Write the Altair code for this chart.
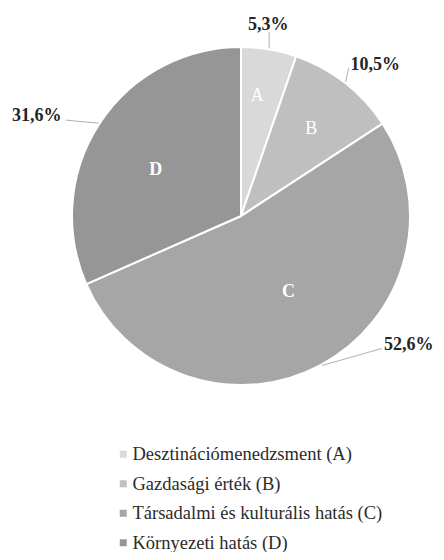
import altair as alt
import pandas as pd

# ---- data ----
categories = ["A", "B", "C", "D"]
legend_labels = [
    "Desztinációmenedzsment (A)",
    "Gazdasági érték (B)",
    "Társadalmi és kulturális hatás (C)",
    "Környezeti hatás (D)",
]
percent_values = [5.3, 10.5, 52.6, 31.6]
percent_text = ["5,3%", "10,5%", "52,6%", "31,6%"]

# ---- style / layout ----
colors = ["#d9d9d9", "#bfbfbf", "#a6a6a6", "#969696"]
FONT = "'Liberation Serif', 'Times New Roman', 'DejaVu Serif', serif"
CX, CY, R = 233, 208, 169
inner_r = {"A": 122, "B": 111, "C": 89, "D": 97}
inner_nudge = {"A": (-4, 0), "B": (2, 0), "C": (5, -2), "D": (-4, 7)}
inner_bold = {"A": "normal", "B": "normal", "C": "bold", "D": "bold"}
elbow = {"A": (0, -16), "B": (3, -14), "C": (60, -17), "D": (-33, -3)}
label_off = {"A": (-1, -7, "center"), "B": (2, -3, "left"),
             "C": (2, -3, "left"), "D": (-4, -4, "right")}

df = pd.DataFrame({
    "ord": list(range(len(categories))),
    "cat": categories,
    "label": legend_labels,
    "pct": percent_values,
    "ptxt": percent_text,
})
df["ir"] = df["cat"].map(inner_r)
df["idx"] = df["cat"].map(lambda c: inner_nudge[c][0])
df["idy"] = df["cat"].map(lambda c: inner_nudge[c][1])
df["bold"] = df["cat"].map(inner_bold)
df["edx"] = df["cat"].map(lambda c: elbow[c][0])
df["edy"] = df["cat"].map(lambda c: elbow[c][1])
df["tdx"] = df["cat"].map(lambda c: label_off[c][0])
df["tdy"] = df["cat"].map(lambda c: label_off[c][1])
df["align"] = df["cat"].map(lambda c: label_off[c][2])

base = alt.Chart(df)

pie = base.mark_arc(radius=R, stroke="white", strokeWidth=2).encode(
    theta=alt.Theta("pct:Q", stack=True),
    order=alt.Order("ord:Q"),
    color=alt.Color(
        "label:N",
        scale=alt.Scale(domain=legend_labels, range=colors),
        sort=legend_labels,
        legend=alt.Legend(
            title=None,
            orient="none",
            legendX=106,
            legendY=437,
            symbolType="square",
            symbolSize=49,
            symbolStrokeWidth=0,
            labelFont=FONT,
            labelFontSize=18.5,
            labelColor="#2b2b2b",
            labelLimit=0,
            rowPadding=10.5,
            labelOffset=0,
        ),
    ),
    x=alt.value(CX),
    y=alt.value(CY),
)

geo = base.transform_window(
    cum="sum(pct)", sort=[alt.SortField("ord")], frame=[None, 0]
).transform_joinaggregate(
    total="sum(pct)"
).transform_calculate(
    mid="(datum.cum - datum.pct/2) / datum.total * 2 * PI"
).transform_calculate(
    ex=f"{CX} + {R + 1} * sin(datum.mid)",
    ey=f"{CY} - {R + 1} * cos(datum.mid)",
    ix=f"{CX} + datum.ir * sin(datum.mid) + datum.idx",
    iy=f"{CY} - datum.ir * cos(datum.mid) + datum.idy",
).transform_calculate(
    lx="datum.ex + datum.edx",
    ly="datum.ey + datum.edy",
).transform_calculate(
    tx="datum.lx + datum.tdx",
    ty="datum.ly + datum.tdy",
)

leaders = geo.mark_rule(color="#b0b0b0", strokeWidth=1).encode(
    x=alt.X("ex:Q", scale=None),
    y=alt.Y("ey:Q", scale=None),
    x2="lx:Q",
    y2="ly:Q",
)

def outer(al):
    return geo.transform_filter(alt.datum.align == al).mark_text(
        font=FONT, fontSize=18, fontWeight="bold", color="#262626",
        align=al, baseline="middle",
    ).encode(
        x=alt.X("tx:Q", scale=None),
        y=alt.Y("ty:Q", scale=None),
        text="ptxt:N",
    )

def inner(w):
    return geo.transform_filter(alt.datum.bold == w).mark_text(
        font=FONT, fontSize=18, fontWeight=w, color="white",
        align="center", baseline="middle",
    ).encode(
        x=alt.X("ix:Q", scale=None),
        y=alt.Y("iy:Q", scale=None),
        text="cat:N",
    )

chart = alt.layer(
    pie, leaders, outer("center"), outer("left"), outer("right"),
    inner("normal"), inner("bold"),
).properties(
    width=428, height=544, padding=0,
    autosize=alt.AutoSizeParams(type="none"),
).configure_view(stroke=None)

chart.save("out.html", embed_options={"renderer": "svg", "actions": False})
